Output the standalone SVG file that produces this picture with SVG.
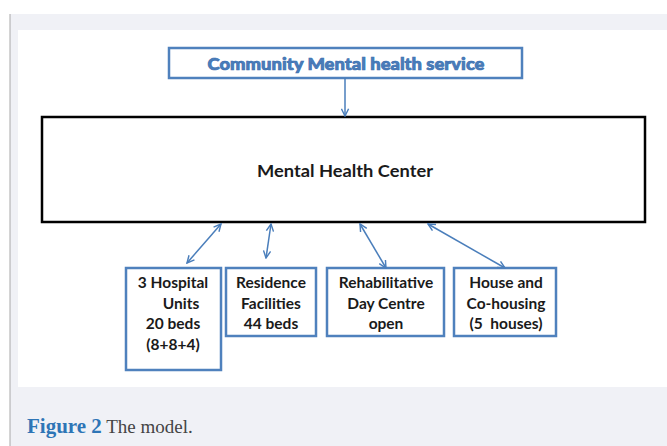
<svg xmlns="http://www.w3.org/2000/svg" width="667" height="446" viewBox="0 0 667 446">
<defs>
<style>
.bx{fill:#fff;stroke:#4f81bd;stroke-width:2.5}
.t{font-family:Lato,"Liberation Sans",sans-serif;font-weight:bold;font-size:15.5px;fill:#1a1a1a;text-anchor:middle}
.c{stroke:#4a7ebb;stroke-width:1.5;fill:none}
</style>
<marker id="ah" viewBox="0 0 10 10" refX="9" refY="5" markerWidth="9" markerHeight="9" orient="auto-start-reverse" markerUnits="userSpaceOnUse">
<path d="M1,1 L9,5 L1,9" fill="none" stroke="#4a7ebb" stroke-width="1.6"/>
</marker>
</defs>
<rect x="0" y="0" width="667" height="446" fill="#fff"/>
<rect x="10" y="14" width="657" height="432" fill="#f0f1f6"/>
<line x1="10" y1="14" x2="10" y2="446" stroke="#a8a8a8" stroke-width="1"/>
<rect x="18" y="30" width="649" height="357" fill="#fff"/>

<g id="community">
<rect class="bx" x="169" y="48" width="353" height="30"/>
<text x="346" y="70" textLength="277" lengthAdjust="spacingAndGlyphs" style="font-family:Lato,'Liberation Sans',sans-serif;font-weight:900;font-size:17px;fill:#4a7ebb;stroke:#3d6fb0;stroke-width:0.7;text-anchor:middle">Community Mental health service</text>
</g>

<g id="mhc">
<rect x="42" y="117" width="603" height="105" fill="#fff" stroke="#000" stroke-width="2.5"/>
<text class="t" x="345" y="177" style="font-size:17px" textLength="176" lengthAdjust="spacingAndGlyphs">Mental Health Center</text>
</g>

<g id="hospital">
<rect class="bx" x="126" y="268" width="95" height="102"/>
<text class="t" x="173" y="288">3 Hospital</text>
<text class="t" x="181" y="309">Units</text>
<text class="t" x="173" y="329">20 beds</text>
<text class="t" x="173" y="350">(8+8+4)</text>
</g>

<g id="residence">
<rect class="bx" x="226" y="268" width="90" height="68"/>
<text class="t" x="271" y="288">Residence</text>
<text class="t" x="271" y="309">Facilities</text>
<text class="t" x="271" y="329">44 beds</text>
</g>

<g id="rehab">
<rect class="bx" x="327" y="268" width="117" height="68"/>
<text class="t" x="386" y="288">Rehabilitative</text>
<text class="t" x="386" y="309">Day Centre</text>
<text class="t" x="386" y="329">open</text>
</g>

<g id="house">
<rect class="bx" x="454" y="268" width="102" height="68"/>
<text class="t" x="506" y="288">House and</text>
<text class="t" x="506" y="309">Co-housing</text>
<text class="t" x="506" y="329" xml:space="preserve">(5  houses)</text>
</g>

<g id="connectors">
<line class="c" x1="345" y1="78" x2="345" y2="116" marker-end="url(#ah)"/>
<line class="c" x1="221" y1="224" x2="187" y2="263" marker-start="url(#ah)" marker-end="url(#ah)"/>
<line class="c" x1="271" y1="224" x2="266" y2="258" marker-start="url(#ah)" marker-end="url(#ah)"/>
<line class="c" x1="360" y1="224" x2="386" y2="268" marker-start="url(#ah)" marker-end="url(#ah)"/>
<line class="c" x1="428" y1="224" x2="505" y2="268" marker-start="url(#ah)" marker-end="url(#ah)"/>
</g>

<g id="caption">
<text x="27" y="433" style="font-family:'Liberation Serif',serif;font-size:19px"><tspan font-weight="bold" fill="#2e75b6" font-size="21px">Figure 2</tspan><tspan fill="#444"> The model.</tspan></text>
</g>
</svg>
